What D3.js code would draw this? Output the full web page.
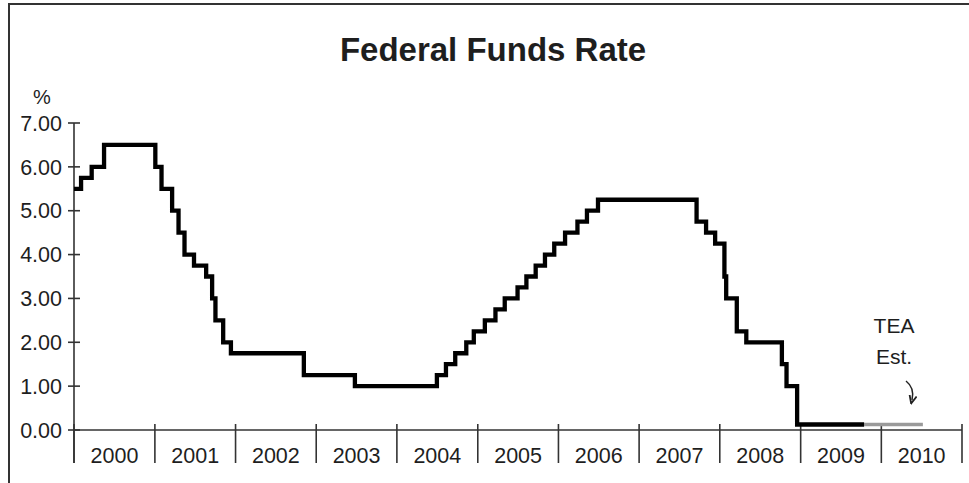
<!DOCTYPE html>
<meta charset="utf-8">
<script src="https://d3js.org/d3.v7.min.js"></script>
<style>
  body { margin: 0; background: #fff; }
  text { font-family: "Liberation Sans", Arial, sans-serif; fill: #1e1e1e; }
</style>
<div id="my_dataviz"></div>
<script>
  // data
  var years = [2000, 2001, 2002, 2003, 2004, 2005, 2006, 2007, 2008, 2009, 2010];
  var yTicks = [0, 1, 2, 3, 4, 5, 6, 7];
  var rateDates = ["2000-01-01", "2000-02-02", "2000-03-21", "2000-05-16",
    "2001-01-03", "2001-01-31", "2001-03-20", "2001-04-18", "2001-05-15", "2001-06-27",
    "2001-08-21", "2001-09-17", "2001-10-02", "2001-11-06", "2001-12-11",
    "2002-11-06", "2003-06-25",
    "2004-06-30", "2004-08-10", "2004-09-21", "2004-11-10", "2004-12-14",
    "2005-02-02", "2005-03-22", "2005-05-03", "2005-06-30", "2005-08-09", "2005-09-20",
    "2005-11-01", "2005-12-13",
    "2006-01-31", "2006-03-28", "2006-05-10", "2006-06-29",
    "2007-09-18", "2007-10-31", "2007-12-11",
    "2008-01-22", "2008-01-30", "2008-03-18", "2008-04-30", "2008-10-08", "2008-10-29",
    "2008-12-16", "2009-10-15"];
  var rateValues = [5.50, 5.75, 6.00, 6.50,
    6.00, 5.50, 5.00, 4.50, 4.00, 3.75,
    3.50, 3.00, 2.50, 2.00, 1.75,
    1.25, 1.00,
    1.25, 1.50, 1.75, 2.00, 2.25,
    2.50, 2.75, 3.00, 3.25, 3.50, 3.75,
    4.00, 4.25,
    4.50, 4.75, 5.00, 5.25,
    4.75, 4.50, 4.25,
    3.50, 3.00, 2.25, 2.00, 1.50, 1.00,
    0.125, 0.125];
  var estDates = ["2009-10-15", "2010-07-08"];
  var estValues = [0.125, 0.125];

  var W = 969, H = 483;
  var parse = d3.timeParse("%Y-%m-%d");

  var svg = d3.select("#my_dataviz")
    .append("svg")
    .attr("width", W)
    .attr("height", H);

  // frame
  svg.append("rect")
    .attr("x", 9).attr("y", 4)
    .attr("width", W).attr("height", H)
    .attr("fill", "none")
    .attr("stroke", "#333")
    .attr("stroke-width", 2);

  // title
  svg.append("text")
    .attr("x", 493).attr("y", 61)
    .attr("text-anchor", "middle")
    .style("font-size", "33px")
    .style("font-weight", "bold")
    .text("Federal Funds Rate");

  var x = d3.scaleTime()
    .domain([new Date(2000, 0, 1), new Date(2011, 0, 1)])
    .range([74, 962]);
  var y = d3.scaleLinear()
    .domain([0, 7])
    .range([430, 123]);

  // y axis
  svg.append("line")
    .attr("x1", 74).attr("x2", 74)
    .attr("y1", y(7)).attr("y2", 463)
    .attr("stroke", "#333").attr("stroke-width", 1.6);

  var yt = svg.selectAll(".ytick")
    .data(yTicks)
    .enter().append("g")
    .attr("class", "ytick")
    .attr("transform", function(d) { return "translate(0," + y(d) + ")"; });
  yt.append("line")
    .attr("x1", 68).attr("x2", 80)
    .attr("stroke", "#333").attr("stroke-width", 1.6);
  yt.append("text")
    .attr("x", 62).attr("dy", "0.36em")
    .attr("text-anchor", "end")
    .style("font-size", "21.5px")
    .text(function(d) { return d3.format(".2f")(d); });

  svg.append("text")
    .attr("x", 42).attr("y", 104)
    .attr("text-anchor", "middle")
    .style("font-size", "20px")
    .text("%");

  // x axis
  svg.append("line")
    .attr("x1", 74).attr("x2", 962)
    .attr("y1", 430).attr("y2", 430)
    .attr("stroke", "#333").attr("stroke-width", 1.6);

  var bounds = years.concat([years[years.length - 1] + 1]);
  svg.selectAll(".xtick")
    .data(bounds)
    .enter().append("line")
    .attr("class", "xtick")
    .attr("x1", function(d) { return x(new Date(d, 0, 1)); })
    .attr("x2", function(d) { return x(new Date(d, 0, 1)); })
    .attr("y1", 424).attr("y2", 463)
    .attr("stroke", "#333").attr("stroke-width", 1.6);

  svg.selectAll(".xlabel")
    .data(years)
    .enter().append("text")
    .attr("class", "xlabel")
    .attr("x", function(d) { return (x(new Date(d, 0, 1)) + x(new Date(d + 1, 0, 1))) / 2; })
    .attr("y", 463)
    .attr("text-anchor", "middle")
    .style("font-size", "21.5px")
    .text(function(d) { return d; });

  // rate line
  var rates = rateDates.map(function(d, i) { return { date: parse(d), value: rateValues[i] }; });
  var est = estDates.map(function(d, i) { return { date: parse(d), value: estValues[i] }; });

  var line = d3.line()
    .curve(d3.curveStepAfter)
    .x(function(d) { return x(d.date); })
    .y(function(d) { return y(d.value); });

  svg.append("path")
    .datum(est)
    .attr("fill", "none")
    .attr("stroke", "#9a9a9a")
    .attr("stroke-width", 3.5)
    .attr("d", line);

  svg.append("path")
    .datum(rates)
    .attr("fill", "none")
    .attr("stroke", "#000")
    .attr("stroke-width", 4.3)
    .attr("stroke-linejoin", "miter")
    .attr("d", line);

  // annotation
  svg.append("text")
    .attr("x", 894).attr("y", 333)
    .attr("text-anchor", "middle")
    .style("font-size", "21px")
    .text("TEA");
  svg.append("text")
    .attr("x", 894).attr("y", 364)
    .attr("text-anchor", "middle")
    .style("font-size", "21px")
    .text("Est.");

  svg.append("defs").append("marker")
    .attr("id", "arr")
    .attr("viewBox", "0 0 10 10")
    .attr("refX", 5).attr("refY", 5)
    .attr("markerWidth", 6).attr("markerHeight", 6)
    .attr("orient", "auto")
    .append("path")
    .attr("d", "M0,1 L9,5 L0,9")
    .attr("fill", "none")
    .attr("stroke", "#222")
    .attr("stroke-width", 2);

  svg.append("path")
    .attr("d", "M906,381 Q915,388 912,400")
    .attr("fill", "none")
    .attr("stroke", "#222")
    .attr("stroke-width", 1.5)
    .attr("marker-end", "url(#arr)");
</script>
